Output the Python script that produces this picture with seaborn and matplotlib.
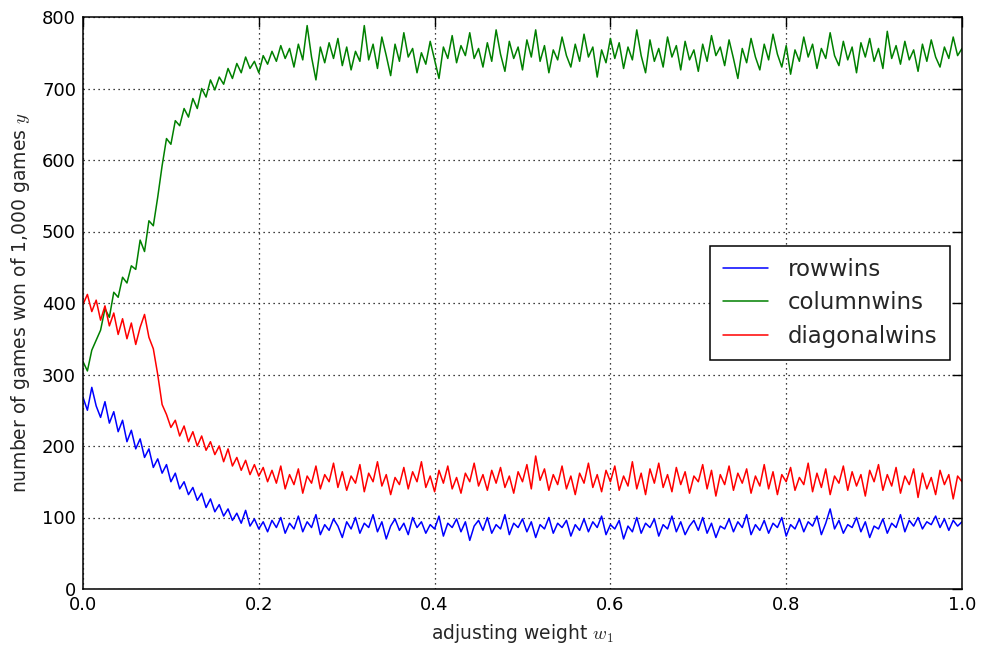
import numpy as np
import pandas as pd
import matplotlib
matplotlib.use("Agg")
import matplotlib.pyplot as plt
import seaborn as sns

columnwins = [
    318, 305, 334, 348, 362, 392, 380, 415, 408, 436, 428, 452, 447, 488, 472, 515, 508, 548, 592, 630,
    622, 655, 648, 672, 660, 686, 672, 700, 688, 712, 698, 716, 706, 728, 714, 735, 722, 744, 728, 738,
    722, 746, 734, 752, 738, 760, 742, 756, 730, 762, 740, 788, 744, 712, 758, 736, 764, 742, 770, 732,
    758, 726, 752, 738, 788, 740, 762, 728, 772, 746, 718, 762, 738, 778, 744, 756, 722, 750, 734, 766,
    740, 714, 758, 742, 774, 736, 760, 746, 778, 742, 756, 730, 764, 738, 782, 748, 724, 766, 742, 758,
    726, 768, 744, 782, 738, 760, 722, 754, 740, 772, 746, 730, 762, 738, 776, 744, 758, 716, 754, 736,
    770, 742, 764, 728, 758, 740, 782, 746, 722, 768, 738, 756, 730, 772, 744, 760, 726, 766, 740, 754,
    724, 762, 738, 774, 746, 758, 732, 768, 742, 714, 756, 736, 770, 744, 726, 762, 740, 776, 748, 730,
    760, 720, 754, 738, 772, 744, 762, 728, 756, 742, 778, 746, 732, 766, 740, 758, 722, 764, 744, 770,
    738, 756, 728, 780, 742, 760, 734, 766, 740, 754, 724, 762, 738, 768, 744, 730, 758, 742, 772, 746,
    756,
]

diagonalwins = [
    398, 412, 388, 404, 376, 396, 368, 386, 356, 378, 350, 372, 342, 366, 384, 352, 336, 300, 258, 244,
    226, 236, 214, 228, 206, 220, 200, 214, 194, 206, 188, 200, 178, 196, 172, 184, 166, 180, 160, 174,
    158, 170, 150, 166, 148, 172, 140, 160, 146, 168, 134, 158, 148, 172, 140, 160, 150, 176, 142, 164,
    138, 158, 148, 174, 136, 162, 150, 178, 144, 160, 132, 156, 146, 170, 140, 164, 150, 178, 142, 158,
    136, 166, 148, 172, 140, 156, 134, 162, 150, 176, 144, 160, 138, 166, 148, 170, 142, 158, 134, 164,
    150, 174, 140, 186, 152, 168, 138, 160, 146, 172, 140, 158, 132, 162, 148, 176, 142, 160, 136, 166,
    150, 172, 138, 158, 144, 178, 140, 162, 132, 168, 148, 176, 142, 160, 136, 170, 146, 164, 134, 158,
    150, 174, 140, 166, 130, 160, 146, 172, 138, 162, 148, 168, 134, 158, 144, 174, 140, 164, 132, 160,
    150, 170, 138, 156, 146, 176, 136, 162, 142, 168, 132, 158, 148, 172, 138, 164, 144, 160, 130, 166,
    150, 174, 138, 160, 144, 170, 134, 158, 146, 168, 128, 162, 140, 156, 132, 166, 146, 160, 126, 158,
    150,
]

rowwins = [
    268, 250, 282, 256, 240, 262, 232, 248, 220, 236, 206, 222, 196, 210, 184, 196, 170, 182, 162, 174,
    150, 162, 140, 150, 132, 142, 124, 134, 114, 126, 108, 118, 102, 112, 96, 106, 92, 110, 88, 98,
    84, 94, 80, 96, 86, 100, 78, 92, 84, 102, 80, 94, 86, 104, 76, 90, 82, 98, 88, 72,
    94, 84, 100, 78, 92, 86, 104, 80, 94, 70, 88, 98, 82, 92, 76, 100, 86, 94, 78, 90,
    84, 102, 74, 92, 86, 98, 80, 94, 68, 88, 96, 82, 100, 78, 90, 84, 104, 76, 92, 86,
    98, 80, 94, 72, 90, 84, 100, 78, 92, 86, 96, 74, 90, 82, 98, 80, 94, 86, 102, 76,
    90, 84, 96, 70, 88, 80, 100, 78, 92, 86, 98, 74, 90, 84, 102, 80, 94, 76, 88, 96,
    82, 100, 78, 92, 72, 88, 84, 98, 80, 94, 86, 104, 76, 90, 82, 96, 78, 92, 86, 100,
    74, 90, 84, 98, 80, 94, 88, 102, 76, 92, 112, 84, 96, 78, 90, 86, 100, 80, 94, 72,
    88, 84, 98, 78, 92, 86, 104, 80, 96, 88, 100, 84, 94, 90, 102, 86, 98, 82, 96, 88,
    94,
]

series_names = ["rowwins", "columnwins", "diagonalwins"]
series_values = [rowwins, columnwins, diagonalwins]
series_colors = ["#0000ff", "#008000", "#ff0000"]

x_ticks = [0.0, 0.2, 0.4, 0.6, 0.8, 1.0]
y_ticks = [0, 100, 200, 300, 400, 500, 600, 700, 800]

frames = []
for name, vals in zip(series_names, series_values):
    frames.append(pd.DataFrame({"w": np.linspace(0, 1, len(vals)), "y": vals, "series": name}))
df = pd.concat(frames, ignore_index=True)

sns.set_style("white")
plt.rcParams["font.family"] = ["DejaVu Sans"]
plt.rcParams["mathtext.fontset"] = "cm"

fig = plt.figure(figsize=(9.83, 6.45), dpi=100)
ax = fig.add_axes([83 / 983, 1 - 589 / 645, 879 / 983, 572 / 645])

sns.lineplot(data=df, x="w", y="y", hue="series", hue_order=series_names,
             palette=series_colors, linewidth=1.1, ax=ax, estimator=None, sort=False)

ax.set_xlim(0, 1)
ax.set_ylim(0, 800)
ax.set_xticks(x_ticks)
ax.set_yticks(y_ticks)
ax.set_xticklabels([f"{t:.1f}" for t in x_ticks])
ax.set_yticklabels([str(t) for t in y_ticks])
ax.tick_params(direction="in", top=True, right=True, length=7, width=1,
               labelsize=13, colors="black", pad=5)
ax.grid(True, linestyle=(0, (1, 3)), color="black", linewidth=0.9)
for s in ax.spines.values():
    s.set_color("black")
    s.set_linewidth(1.1)
    s.set_visible(True)

ax.set_xlabel("adjusting weight $w_1$", fontsize=13.5, labelpad=6)
ax.set_ylabel("number of games won of 1,000 games $y$", fontsize=13.5, labelpad=7)

leg = ax.legend(loc="center right", fontsize=16.5, frameon=True, fancybox=False,
                edgecolor="black", framealpha=1, borderaxespad=0.52,
                handlelength=2.0, borderpad=0.55, labelspacing=0.45, handletextpad=0.85)
leg.get_frame().set_linewidth(1.1)

fig.savefig("out.png", dpi=100)
